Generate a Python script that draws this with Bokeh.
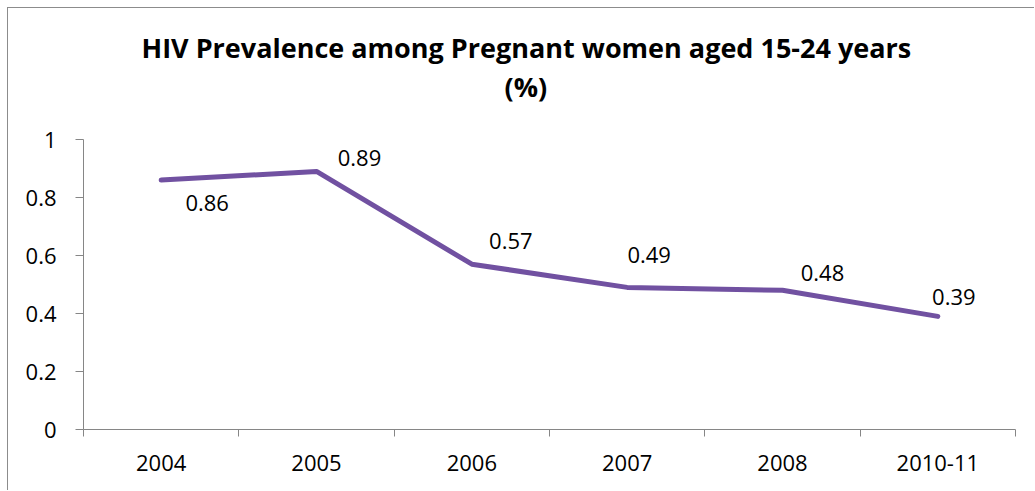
from bokeh.plotting import figure
from bokeh.models import Range1d, FixedTicker, ColumnDataSource, LabelSet, Title
from bokeh.core.properties import value
from bokeh.embed import file_html
from bokeh.resources import INLINE

# ---- data ----
years = ["2004", "2005", "2006", "2007", "2008", "2010-11"]
prevalence = [0.86, 0.89, 0.57, 0.49, 0.48, 0.39]
y_ticks = [0, 0.2, 0.4, 0.6, 0.8, 1.0]
title_line1 = "HIV Prevalence among Pregnant women aged 15-24 years"
title_line2 = "(%)"

# ---- label placement (pixel offsets, layout only) ----
label_dx = [46, 43, 39, 22, 40, 16]
label_dy = [-23, 13, 23, 32, 17, 19]

FONT = "Open Sans"
LINE_COLOR = "#7151A1"
AXIS_COLOR = "#868686"

n = len(years)
centers = [i + 0.5 for i in range(n)]
bounds = [float(i) for i in range(n + 1)]

src = ColumnDataSource(dict(
    x=centers, y=prevalence,
    label=[f"{v:.2f}" for v in prevalence],
    dx=label_dx, dy=label_dy,
))

p = figure(width=1027, height=483, output_backend="svg", toolbar_location=None,
           x_range=Range1d(0, n), y_range=Range1d(0, 1),
           min_border_left=75, min_border_right=20,
           min_border_top=131, min_border_bottom=62)
p.margin = (7, 0, 0, 7)
p.styles = {"border-left": "1px solid #8c8c8c", "border-top": "1px solid #8c8c8c"}
p.outline_line_color = None
p.grid.visible = False
p.background_fill_color = "white"
p.border_fill_color = "white"

# two-line chart title (first panel added sits closest to the frame)
spacer = Title(text=" ", text_font_size="1px", standoff=32)
t2 = Title(text=title_line2, align="left", offset=421,
           text_font=FONT, text_font_size="27px", text_font_style="bold",
           text_color="black", standoff=0)
t1 = Title(text=title_line1, align="left", offset=58,
           text_font=FONT, text_font_size="27px", text_font_style="bold",
           text_color="black", standoff=0)
p.add_layout(spacer, "above")
p.add_layout(t2, "above")
p.add_layout(t1, "above")

p.line("x", "y", source=src, line_color=LINE_COLOR, line_width=5,
       line_join="round", line_cap="round")

labels = LabelSet(x="x", y="y", text="label", source=src,
                  x_offset="dx", y_offset="dy",
                  text_align="center", text_baseline="middle",
                  text_font=value(FONT), text_font_size=value("22px"),
                  text_color="black")
p.add_layout(labels)

# x axis: labels at category centres, ticks at category boundaries
xa = p.xaxis[0]
xa.ticker = FixedTicker(ticks=centers, minor_ticks=bounds)
xa.major_label_overrides = {c: y for c, y in zip(centers, years)}
xa.major_tick_line_color = None
xa.minor_tick_line_color = AXIS_COLOR
xa.minor_tick_in = 0
xa.minor_tick_out = 7
xa.axis_line_color = AXIS_COLOR
xa.major_label_text_font = FONT
xa.major_label_text_font_size = "22px"
xa.major_label_text_color = "black"
xa.major_label_standoff = 18

ya = p.yaxis[0]
ya.ticker = FixedTicker(ticks=y_ticks, minor_ticks=[])
ya.major_label_overrides = {0: "0", 1: "1"}
ya.axis_line_color = AXIS_COLOR
ya.major_tick_line_color = AXIS_COLOR
ya.major_tick_in = 0
ya.major_tick_out = 8
ya.minor_tick_line_color = None
ya.major_label_text_font = FONT
ya.major_label_text_font_size = "22px"
ya.major_label_text_color = "black"
ya.major_label_standoff = 19

open("out.html", "w").write(file_html(p, INLINE))
